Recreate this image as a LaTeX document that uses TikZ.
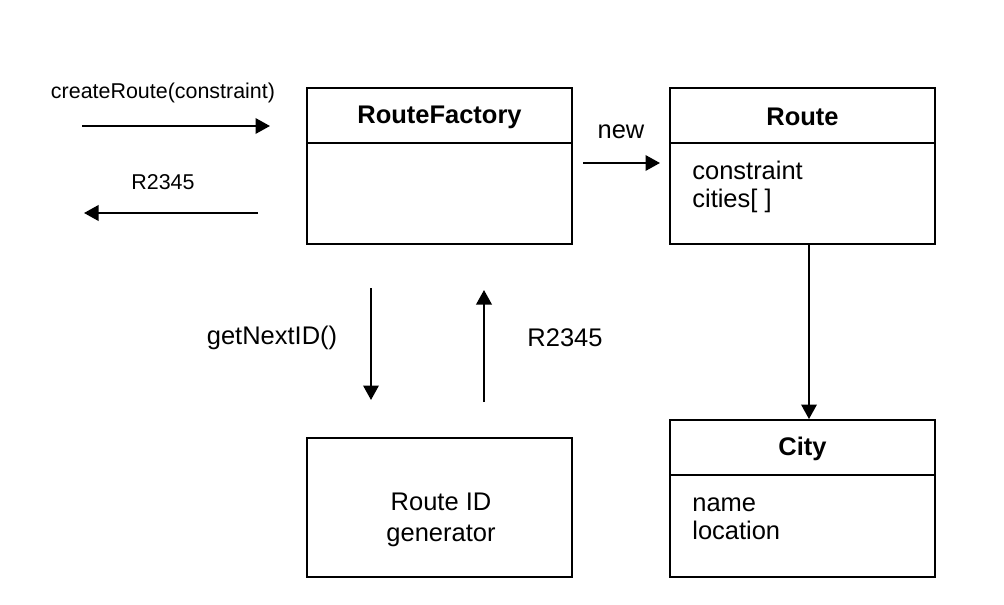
\documentclass[tikz,border=0pt]{standalone}
\usepackage{fontspec}
\setmainfont{Liberation Sans}
\usepackage{tikz}
\usetikzlibrary{arrows.meta}

\tikzset{
	classbox/.style={draw, line width=1.1pt, minimum width=5.3cm, minimum height=3.12cm, inner sep=0pt},
	ttl/.style={font=\bfseries\fontsize{14.5}{17}\selectfont, inner sep=0pt},
	txt/.style={font=\fontsize{14.5}{17}\selectfont, inner sep=0pt},
	lbl/.style={font=\fontsize{12.2}{14}\selectfont, inner sep=0pt},
	msg/.style={line width=1.1pt, -{Triangle[length=2.9mm,width=3.1mm]}}
}

\begin{document}
\begin{tikzpicture}
	\useasboundingbox (0,0) rectangle (20.08,12.08);

	% boxes
	\path (8.79,8.76) node[classbox] (factory) {};
	\path (16.05,8.76) node[classbox] (route) {};
	\path (8.79,1.93) node[classbox, minimum height=2.78cm] (gen) {};
	\path (16.05,2.11) node[classbox, minimum height=3.14cm] (city) {};

	\draw[line width=1.1pt] ([yshift=-1.12cm]factory.north west) -- ([yshift=-1.12cm]factory.north east);
	\draw[line width=1.1pt] ([yshift=-1.12cm]route.north west) -- ([yshift=-1.12cm]route.north east);
	\draw[line width=1.1pt] ([yshift=-1.12cm]city.north west) -- ([yshift=-1.12cm]city.north east);

	\path ([yshift=-0.60cm]factory.north) node[ttl] (factoryname) {RouteFactory};
	\path ([yshift=-0.60cm]route.north) node[ttl] (routename) {Route};
	\path ([yshift=-0.60cm]city.north) node[ttl] (cityname) {City};

	\path (13.84,8.50) node[txt, anchor=base west] (constraint) {constraint};
	\path (13.84,7.94) node[txt, anchor=base west] (cities) {cities[ ]};
	\path (13.84,1.86) node[txt, anchor=base west] (name) {name};
	\path (13.84,1.30) node[txt, anchor=base west] (location) {location};
	\path (8.82,1.88) node[txt, anchor=base] (genname) {Route ID};
	\path (8.82,1.26) node[txt, anchor=base] (genname2) {generator};

	% messages
	\coordinate (inA) at (1.64,9.56);
	\coordinate (inB) at (5.40,9.56);
	\coordinate (outA) at (5.16,7.82);
	\coordinate (outB) at (1.68,7.82);
	\coordinate (newA) at (11.66,8.82);
	\coordinate (newB) at (13.20,8.82);
	\coordinate (getA) at (7.42,6.32);
	\coordinate (getB) at (7.42,4.08);
	\coordinate (retA) at (9.68,4.04);
	\coordinate (retB) at (9.68,6.28);

	\draw[msg] (inA) -- (inB);
	\draw[msg] (outA) -- (outB);
	\draw[msg] (newA) -- (newB);
	\draw[msg] (getA) -- (getB);
	\draw[msg] (retA) -- (retB);
	\draw[msg] ([xshift=0.13cm]route.south) -- ([xshift=0.13cm]city.north);

	\path (3.26,10.22) node[lbl] (create) {createRoute(constraint)};
	\path (3.26,8.44) node[lbl] (idout) {R2345};
	\path (12.42,9.44) node[txt] (new) {new};
	\path (5.44,5.32) node[txt] (getid) {getNextID()};
	\path (11.30,5.32) node[txt] (idback) {R2345};
\end{tikzpicture}
\end{document}
